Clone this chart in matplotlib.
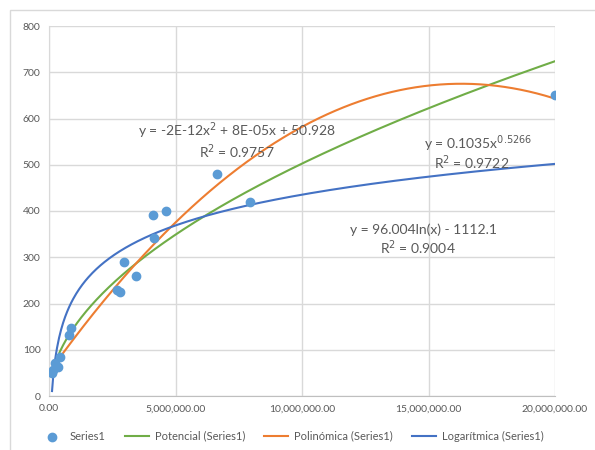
# Scatter with three trend lines (Excel style)
import numpy as np
import matplotlib.pyplot as plt
from matplotlib.patches import Rectangle

plt.rcParams['font.family'] = ['Lato', 'DejaVu Sans']

# Data points (Series1)
x_pts = [120000, 160000, 240000, 360000, 430000, 800000, 870000,
         2700000, 2800000, 2980000, 3440000, 4120000, 4150000, 4620000,
         6630000, 7940000, 20000000]
y_pts = [50, 56, 71, 63, 84, 132, 148,
         230, 225, 290, 259, 391, 341, 400,
         480, 420, 651]

# Trend line coefficients shown on the chart
pow_a, pow_b = 0.1035, 0.5266
poly_c = [-2.35e-12, 7.66e-05, 50.928]
log_a, log_b = 96.004, -1112.1

x_ticks = [0, 5000000, 10000000, 15000000, 20000000]
y_ticks = [0, 100, 200, 300, 400, 500, 600, 700, 800]

c_pts = '#5B9BD5'
c_pow = '#70AD47'
c_poly = '#ED7D31'
c_log = '#4472C4'
c_txt = '#595959'


def main():
    fig = plt.figure(figsize=(5.95, 4.5), dpi=100)
    ax = fig.add_axes([49 / 595, 1 - 396 / 450, 506 / 595, 370 / 450])

    # Outer chart border
    fig.patches.append(Rectangle((10 / 595, -0.05), 1.0, 1 - 10 / 450 + 0.05,
                                 transform=fig.transFigure, fill=False,
                                 edgecolor='#D9D9D9', lw=1.0))

    xs = np.linspace(min(x_pts), max(x_pts), 500)
    ax.plot(xs, pow_a * xs ** pow_b, color=c_pow, lw=1.5, label='Potencial (Series1)')
    ax.plot(xs, np.polyval(poly_c, xs), color=c_poly, lw=1.5, label='Polinómica (Series1)')
    ax.plot(xs, log_a * np.log(xs) + log_b, color=c_log, lw=1.5, label='Logarítmica (Series1)')
    ax.scatter(x_pts, y_pts, s=36, color=c_pts, zorder=5, label='Series1')

    ax.set_xlim(0, 20000000)
    ax.set_ylim(0, 800)
    ax.set_xticks(x_ticks)
    ax.set_xticklabels(['{:,.2f}'.format(v) for v in x_ticks])
    ax.set_yticks(y_ticks)
    ax.tick_params(length=0, labelsize=7.5, colors=c_txt, pad=6)
    ax.grid(True, color='#D9D9D9', lw=1.0)
    ax.set_axisbelow(True)
    for s in ax.spines.values():
        s.set_visible(False)
    ax.spines['left'].set_visible(True)
    ax.spines['left'].set_color('#D9D9D9')
    ax.spines['bottom'].set_visible(True)
    ax.spines['bottom'].set_color('#BFBFBF')

    # Equations
    fs = 10
    fig.text(237 / 595, 1 - 131 / 450, 'y = -2E-12x$^2$ + 8E-05x + 50.928',
             ha='center', va='center', fontsize=fs, color=c_txt)
    fig.text(237 / 595, 1 - 152 / 450, 'R$^2$ = 0.9757',
             ha='center', va='center', fontsize=fs, color=c_txt)
    fig.text(478 / 595, 1 - 144 / 450, 'y = 0.1035x$^{0.5266}$',
             ha='center', va='center', fontsize=fs, color=c_txt)
    fig.text(472 / 595, 1 - 163 / 450, 'R$^2$ = 0.9722',
             ha='center', va='center', fontsize=fs, color=c_txt)
    fig.text(424 / 595, 1 - 230 / 450, 'y = 96.004ln(x) - 1112.1',
             ha='center', va='center', fontsize=fs, color=c_txt)
    fig.text(418 / 595, 1 - 248 / 450, 'R$^2$ = 0.9004',
             ha='center', va='center', fontsize=fs, color=c_txt)

    h, l = ax.get_legend_handles_labels()
    order = [3, 0, 1, 2]
    fig.legend([h[i] for i in order], [l[i] for i in order],
               loc='center', bbox_to_anchor=(0.49, 1 - 436 / 450), ncol=4,
               frameon=False, fontsize=8, labelcolor=c_txt,
               handlelength=2.2, columnspacing=1.7, handletextpad=0.5)

    fig.savefig('out.png', dpi=100)


if __name__ == "__main__":
    main()
